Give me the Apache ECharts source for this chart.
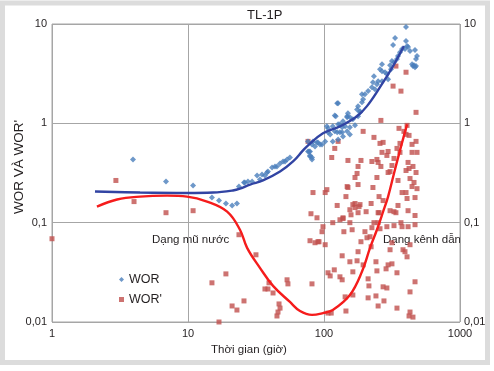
<!DOCTYPE html>
<html><head><meta charset="utf-8">
<script src="https://cdn.jsdelivr.net/npm/echarts@6/dist/echarts.min.js"></script>
<style>html,body{margin:0;padding:0;background:#fff;}#c{width:494px;height:371px;}</style>
</head><body><div id="c"></div>
<script>
// ---------- data ----------
const xTicks = [1, 10, 100, 1000];
const xTickLabels = ['1', '10', '100', '1000'];
const yTicks = [0.01, 0.1, 1, 10];
const yTickLabels = ['0,01', '0,1', '1', '10'];

const worT = [3.94,6.89,10.9,15.0,16.9,19.0,21.1,22.9,23.7,25.8,26.2,27.6,29.6,32.2,33.8,35.0,36.8,38.1,38.7,41.5,43.6,45.1,47.5,50.0,51.7,53.5,56.2,
  76.3,77.6,78.9,78.9,81.6,78.9,81.6,76.3,81.6,83.0,85.9,88.8,90.3,93.5,96.7,102,105,107,107,111,116,116,120,125,127,127,131,136,136,138,143,148,155,155,169,
  120,122,125,127,131,138,148,148,150,155,163,175,178,178,184,184,190,194,190,200,211,225,237,229,233,245,250,267,258,267,267,281,290,296,306,311,316,327,344,350,362,375,
  322,333,394,401,408,415,429,401,444,451,467,475,483,467,459,475];
const worV = [0.433,0.259,0.236,0.179,0.167,0.156,0.149,0.156,0.231,0.254,0.254,0.259,0.259,0.298,0.272,0.305,0.298,0.320,0.327,0.359,0.368,0.368,0.394,0.413,0.413,0.433,0.453,
  0.521,0.521,0.475,0.464,0.453,0.521,0.433,0.658,0.614,0.658,0.586,0.643,0.643,0.614,0.614,0.658,0.933,0.890,0.811,0.774,0.933,0.658,0.830,0.811,0.977,0.689,0.811,0.911,0.811,0.739,0.933,0.830,0.911,0.774,0.954,
  1.20,1.18,1.59,1.59,0.977,1.05,1.18,1.15,1.26,1.15,1.10,1.38,1.18,1.49,1.29,1.32,1.63,1.75,1.96,1.96,2.11,2.31,2.20,2.59,2.98,2.48,2.66,2.66,3.51,3.35,3.94,3.27,3.13,2.78,3.85,3.51,4.23,4.13,4.43,4.75,5.21,5.59,
  6.14,7.22,5.59,6.73,6.0,5.86,5.34,9.33,3.94,3.77,3.68,4.43,4.75,5.46,3.85,3.77];

const worpT = [1.0,2.95,4.01,6.89,10.9,15.0,16.9,19.0,21.1,22.9,23.7,25.8,31.6,36.8,38.7,39.4,42.2,45.1,45.9,46.7,47.5,53.5,54.3,
  76.3,78.9,80.2,81.6,83.0,85.9,88.8,90.3,91.9,96.7,98.3,102,102,105,107,107,111,113,114,116,119,120,125,127,131,131,136,136,138,138,140,143,145,145,148,150,150,
  155,155,155,158,161,163,163,163,169,169,169,175,175,178,178,178,178,181,184,187,187,194,194,200,204,207,211,211,214,218,222,222,225,225,229,233,233,
  241,241,245,245,245,250,250,250,250,254,254,258,258,262,262,267,272,272,272,276,286,290,290,290,296,296,296,306,306,306,316,316,316,
  322,327,327,327,338,338,344,344,344,350,350,356,362,362,368,368,375,375,381,387,394,401,401,401,401,408,408,408,415,415,415,
  422,422,422,429,429,429,429,444,444,444,451,451,459,467,467,467,467,475,475,475,483,483];
const worpV = [0.0689,0.266,0.163,0.126,0.132,0.0248,0.0100,0.0305,0.0145,0.0132,0.0756,0.0163,0.0475,0.0215,0.0215,0.0248,0.0196,0.0115,0.0126,0.0152,0.0138,0.0266,0.0242,
  0.658,0.0658,0.123,0.0242,0.201,0.0628,0.112,0.0643,0.0643,0.0811,0.0911,0.0600,0.201,0.215,0.0313,0.0123,0.0291,0.0123,0.453,0.100,0.0335,0.559,0.149,0.658,0.107,0.0285,0.0464,0.0266,0.110,0.112,0.0811,0.0179,0.183,0.0129,0.231,0.423,0.226,
  0.135,0.100,0.0404,0.120,0.0849,0.152,0.0320,0.0187,0.156,0.142,0.285,0.313,0.0413,0.368,0.242,0.126,0.0510,0.145,0.152,0.423,0.0643,0.830,0.0376,0.0811,0.129,0.0705,0.0272,0.0175,0.0231,0.0722,0.156,0.0572,0.413,0.0890,0.226,0.722,0.100,
  0.0404,0.0183,0.433,0.285,0.0327,0.404,0.126,0.100,0.0145,0.183,0.126,0.628,0.0869,1.07,0.368,0.510,0.643,0.167,0.0226,0.0163,0.0343,0.475,0.0911,0.0220,0.521,0.320,0.0376,0.327,0.132,0.0534,0.376,0.0628,0.0385,
  2.37,0.443,0.129,0.0933,3.77,0.126,0.559,0.0313,0.0138,0.266,0.149,0.890,0.628,0.510,2.11,0.100,0.201,0.0911,0.0534,0.830,0.0510,3.27,0.774,0.335,0.201,0.954,0.175,0.0453,0.404,0.132,0.0911,
  0.756,0.351,0.0115,0.278,0.0600,0.0201,0.0126,0.614,0.510,0.231,0.368,0.0112,0.254,0.179,0.118,0.0954,0.0254,1.29,0.658,0.320,0.510,0.220];

const worFitT = [2.07,4.44,9.84,15.3,21.4,24.1,28.6,35.6,47.5,59.2,70.1,75.0,98.3,131,175,207,258,322,387];
const worFitV = [0.206,0.201,0.199,0.201,0.211,0.220,0.242,0.266,0.327,0.413,0.534,0.586,0.793,0.933,1.18,1.49,2.31,3.77,6.0];

const worpFitT = [2.14,3.01,4.44,7.01,9.84,13.8,19.4,24.1,27.2,33.8,42.2,56.2,66.6,81.6,98.3,116,155,190,218,245,272,296,327,362,408];
const worpFitV = [0.145,0.171,0.183,0.187,0.183,0.163,0.129,0.0849,0.0558,0.0351,0.0231,0.0159,0.0129,0.0118,0.0123,0.0132,0.0187,0.0320,0.0558,0.0849,0.129,0.183,0.313,0.534,0.977];

// ---------- build ----------
const zip = (a, b) => a.map((v, i) => [v, b[i]]);
const FONT = '"Liberation Sans Narrow", "Liberation Sans", Arial, sans-serif';
const TXT = '#231f20';
const GRID = '#a6a6a6';
function tickFmt(ticks, labels) {
  return function (v) {
    const i = ticks.findIndex(t => Math.abs(Math.log10(t) - Math.log10(v)) < 1e-6);
    return i >= 0 ? labels[i] : '';
  };
}

const chart = echarts.init(document.getElementById('c'), null, {renderer: 'canvas'});
chart.setOption({
  animation: false,
  backgroundColor: '#fff',
  title: {
    text: 'TL-1P', left: 247, top: 9, padding: 0,
    textStyle: {fontFamily: FONT, fontSize: 13, fontWeight: 'normal', color: TXT}
  },
  grid: {left: 52, right: 34, top: 24, bottom: 49, show: true, borderColor: GRID, borderWidth: 1,
         containLabel: false, outerBoundsMode: 'none'},
  legend: {
    orient: 'vertical', left: 119, top: 273, itemWidth: 5, itemHeight: 5, itemGap: 7,
    padding: 0,
    textStyle: {fontFamily: FONT, fontSize: 12.5, color: TXT},
    data: [{name: 'WOR', icon: 'diamond'}, {name: "WOR'", icon: 'rect'}]
  },
  xAxis: {
    type: 'log', logBase: 10, min: 1, max: 1000,
    axisLine: {show: false}, axisTick: {show: false},
    splitLine: {show: true, lineStyle: {color: GRID, width: 1}},
    minorSplitLine: {show: false},
    axisLabel: {fontFamily: FONT, fontSize: 11, color: TXT, margin: 6, formatter: tickFmt(xTicks, xTickLabels)},
    name: 'Thời gian (giờ)', nameLocation: 'middle', nameGap: 22, nameMoveOverlap: false,
    nameTextStyle: {fontFamily: FONT, fontSize: 11.5, color: TXT, padding: [0, 14, 0, 0]}
  },
  yAxis: [{
    type: 'log', logBase: 10, min: 0.01, max: 10, position: 'left',
    axisLine: {show: false}, axisTick: {show: false},
    splitLine: {show: true, lineStyle: {color: GRID, width: 1}},
    axisLabel: {fontFamily: FONT, fontSize: 11, color: TXT, margin: 5, formatter: tickFmt(yTicks, yTickLabels)},
    name: "WOR VÀ WOR'", nameLocation: 'middle', nameGap: 26, nameMoveOverlap: false,
    nameTextStyle: {fontFamily: FONT, fontSize: 13.5, color: TXT, padding: [0, 0, 0, 12]}
  }, {
    type: 'log', logBase: 10, min: 0.01, max: 10, position: 'right',
    axisLine: {show: false}, axisTick: {show: false}, splitLine: {show: false},
    axisLabel: {fontFamily: FONT, fontSize: 11, color: TXT, margin: 4, formatter: tickFmt(yTicks, yTickLabels)}
  }],
  graphic: [
    {type: 'rect', silent: true, shape: {x: 2.5, y: 3, width: 485, height: 359.5},
     style: {fill: 'none', stroke: '#dcdcdc', lineWidth: 5}},
    {type: 'text', x: 152, y: 240, style: {text: 'Dạng mũ nước', font: '11.5px ' + FONT, fill: TXT, verticalAlign: 'middle'}},
    {type: 'text', x: 383, y: 240, style: {text: 'Dạng kênh dẫn', font: '11.5px ' + FONT, fill: TXT, verticalAlign: 'middle'}}
  ],
  series: [
    {name: "WOR'", type: 'scatter', symbol: 'rect', symbolSize: 5, clip: false,
     itemStyle: {color: '#c0504d'}, data: zip(worpT, worpV)},
    {name: 'WOR', type: 'scatter', symbol: 'diamond', symbolSize: 6, clip: false,
     itemStyle: {color: '#4a7ebb'}, data: zip(worT, worV)},
    {name: 'WOR fit', type: 'line', smooth: 0.4, showSymbol: false, symbol: 'none',
     lineStyle: {color: '#3144a3', width: 2.4}, data: zip(worFitT, worFitV)},
    {name: "WOR' fit", type: 'line', smooth: 0.4, showSymbol: false, symbol: 'none',
     lineStyle: {color: '#f51c1c', width: 2.4}, data: zip(worpFitT, worpFitV)}
  ]
});
</script></body></html>
